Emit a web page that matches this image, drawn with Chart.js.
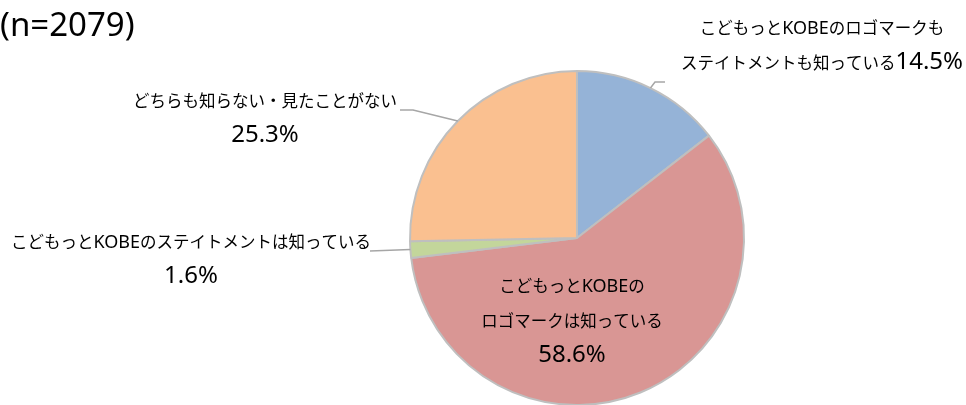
<!DOCTYPE html>
<html lang="ja">
<head>
<meta charset="UTF-8">
<title>こどもっとKOBE 認知度</title>
<script src="https://cdn.jsdelivr.net/npm/chart.js"></script>
<style>
    html, body { margin: 0; padding: 0; background: #fff; overflow: hidden; }
    #wrap { width: 966px; height: 405px; overflow: hidden; }
</style>
</head>
<body>
<div id="wrap"><canvas id="pie" width="966" height="420"></canvas></div>
<script>
const sampleSize = 2079;
const categories = [
    'こどもっとKOBEのロゴマークもステイトメントも知っている',
    'こどもっとKOBEのロゴマークは知っている',
    'こどもっとKOBEのステイトメントは知っている',
    'どちらも知らない・見たことがない'
];
const labelLines = [
    ['こどもっとKOBEのロゴマークも', 'ステイトメントも知っている'],
    ['こどもっとKOBEの', 'ロゴマークは知っている'],
    ['こどもっとKOBEのステイトメントは知っている'],
    ['どちらも知らない・見たことがない']
];
const percents = [14.5, 58.6, 1.6, 25.3];
const sliceColors = ['#95B3D7', '#D99694', '#C3D69B', '#FAC090'];

// where each label sits (centre x, first baseline) and its leader bends
const labelPlace = [
    { x: 822, y: 34, inline: true, leader: [[655, 82], [665, 82]] },
    { x: 572, y: 292 },
    { x: 191, y: 248, leader: [[370, 251]] },
    { x: 265, y: 107, leader: [[413, 110], [400, 110]] }
];
const lineGap = 35;

const FONT_NUM = '24px "Noto Sans"';
const FONT_LAT = '18px "Noto Sans"';
const FONT_CJK = '16.5px "Noto Sans CJK JP"';

function splitRuns(str) {
    return str.split(/([0-9.%]+|[A-Za-z]+)/).filter(s => s.length).map(s => {
        let font = FONT_CJK;
        if (/^[0-9.%]+$/.test(s)) font = FONT_NUM;
        else if (/^[A-Za-z]+$/.test(s)) font = FONT_LAT;
        return { s, font };
    });
}

function drawLine(ctx, str, cx, y) {
    const parts = splitRuns(str);
    let w = 0;
    parts.forEach(p => { ctx.font = p.font; p.w = ctx.measureText(p.s).width; w += p.w; });
    let x = cx - w / 2;
    parts.forEach(p => { ctx.font = p.font; ctx.fillText(p.s, x, y); x += p.w; });
}

const labelPlugin = {
    id: 'pieLabels',
    afterDraw(chart) {
        const ctx = chart.ctx;
        const arcs = chart.getDatasetMeta(0).data;
        ctx.save();
        ctx.textBaseline = 'alphabetic';
        ctx.textAlign = 'left';
        ctx.fillStyle = '#000';

        ctx.font = '33px "Noto Sans"';
        ctx.fillText('(n=' + sampleSize + ')', 0, 36);

        arcs.forEach((arc, i) => {
            const place = labelPlace[i];
            const p = arc.getProps(['x', 'y', 'startAngle', 'endAngle', 'outerRadius'], true);
            const mid = (p.startAngle + p.endAngle) / 2;
            if (place.leader) {
                ctx.strokeStyle = '#A6A6A6';
                ctx.lineWidth = 1.5;
                ctx.beginPath();
                ctx.moveTo(p.x + Math.cos(mid) * p.outerRadius, p.y + Math.sin(mid) * p.outerRadius);
                place.leader.forEach(pt => ctx.lineTo(pt[0], pt[1]));
                ctx.stroke();
            }
            const lines = labelLines[i].slice();
            const pct = percents[i].toFixed(1) + '%';
            if (place.inline) lines[lines.length - 1] += pct;
            else lines.push(pct);
            lines.forEach((ln, k) => drawLine(ctx, ln, place.x, place.y + k * lineGap));
        });
        ctx.restore();
    }
};

new Chart(document.getElementById('pie'), {
    type: 'pie',
    data: {
        labels: categories,
        datasets: [{
            data: percents,
            backgroundColor: sliceColors,
            borderColor: '#BFBFBF',
            borderWidth: 2
        }]
    },
    options: {
        responsive: false,
        animation: false,
        layout: { padding: { top: 70, bottom: 14, left: 409, right: 221 } },
        plugins: {
            legend: { display: false },
            tooltip: { enabled: false }
        }
    },
    plugins: [labelPlugin]
});
</script>
</body>
</html>
